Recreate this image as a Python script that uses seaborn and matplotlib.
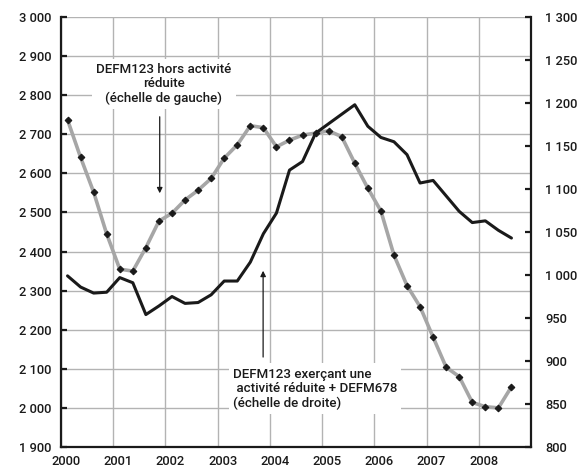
import matplotlib
matplotlib.use("Agg")
import matplotlib.pyplot as plt
import matplotlib.transforms as mtransforms
import seaborn as sns
import pandas as pd
from matplotlib.ticker import FuncFormatter

# quarterly points, placed mid-quarter
quarters = [2000.125 + 0.25 * i for i in range(35)]

# DEFM123 hors activité réduite (left scale, thousands)
defm123_hors = [2737, 2641, 2552, 2445, 2355, 2350, 2410, 2478, 2498, 2532,
                2557, 2587, 2639, 2673, 2722, 2717, 2668, 2685, 2698, 2703,
                2709, 2694, 2626, 2562, 2504, 2391, 2313, 2259, 2181, 2104,
                2080, 2014, 2003, 2000, 2054]

# DEFM123 exerçant une activité réduite + DEFM678 (right scale, thousands)
defm_ar_678 = [999, 986, 979, 980, 997, 991, 954, 964, 975, 967,
               968, 977, 993, 993, 1015, 1048, 1072, 1122, 1132, 1165,
               1176, 1187, 1198, 1173, 1160, 1155, 1140, 1107, 1110, 1092,
               1074, 1061, 1063, 1052, 1043]

years = list(range(2000, 2009))
left_ticks = list(range(1900, 3001, 100))
right_ticks = list(range(800, 1301, 50))

df = pd.DataFrame({"t": quarters, "hors": defm123_hors, "ar": defm_ar_678})

sns.set_style("white")
plt.rcParams["font.family"] = ["Roboto", "DejaVu Sans"]

fig = plt.figure(figsize=(5.81, 4.74), dpi=100)
ax = fig.add_axes([0.105, 0.057, 0.809, 0.907])
ax2 = ax.twinx()

sns.lineplot(data=df, x="t", y="hors", ax=ax, color="#a6a6a6", linewidth=2.6,
             marker="D", markersize=3.4, markerfacecolor="#1a1a1a",
             markeredgecolor="#1a1a1a", zorder=3)
sns.lineplot(data=df, x="t", y="ar", ax=ax2, color="#1a1a1a", linewidth=2.2,
             zorder=3)

thousands = FuncFormatter(lambda v, p: f"{int(v):,}".replace(",", " "))

ax.set_xlim(2000, 2009)
ax.set_ylim(1900, 3000)
ax2.set_ylim(800, 1300)
ax.set_xticks(years)
ax.set_yticks(left_ticks)
ax2.set_yticks(right_ticks)
ax.yaxis.set_major_formatter(thousands)
ax2.yaxis.set_major_formatter(thousands)
ax.set_xlabel("")
ax.set_ylabel("")
ax2.set_ylabel("")

ax.grid(True, color="#b3b3b3", linewidth=1.0)
ax.set_axisbelow(True)

for a in (ax, ax2):
    for s in a.spines.values():
        s.set_visible(False)
ax.spines["left"].set_visible(True)
ax.spines["bottom"].set_visible(True)
ax2.spines["right"].set_visible(True)
for s in ("left", "bottom"):
    ax.spines[s].set_linewidth(1.6)
    ax.spines[s].set_color("#1a1a1a")
ax2.spines["right"].set_linewidth(1.6)
ax2.spines["right"].set_color("#1a1a1a")

ax.tick_params(axis="y", direction="in", length=4, width=1.6, pad=7,
               labelsize=9.3, colors="#1a1a1a")
ax.tick_params(axis="x", direction="in", length=4, width=1.6, pad=6,
               labelsize=9.3, colors="#1a1a1a")
ax2.tick_params(axis="y", direction="in", length=4, width=1.6, pad=10,
                labelsize=9.3, colors="#1a1a1a")
for lab in ax.get_xticklabels() + ax.get_yticklabels() + ax2.get_yticklabels():
    lab.set_fontweight("medium")

# year labels sit a little to the right of their ticks in the original
shift = mtransforms.ScaledTranslation(5 / 100, 0, fig.dpi_scale_trans)
for lab in ax.get_xticklabels():
    lab.set_transform(lab.get_transform() + shift)

ax.text(2001.97, 2829, "DEFM123 hors activité\nréduite\n(échelle de gauche)",
        ha="center", va="center", fontsize=9.6, fontweight="medium",
        color="#1a1a1a", linespacing=1.15, zorder=5,
        bbox=dict(fc="white", ec="none", pad=3))
ax.annotate("", xy=(2001.89, 2542), xytext=(2001.89, 2752),
            arrowprops=dict(arrowstyle="-|>", color="#1a1a1a", lw=0.9,
                            mutation_scale=8), zorder=5)

ax.text(2003.29, 2049, "DEFM123 exerçant une\n activité réduite + DEFM678\n(échelle de droite)",
        ha="left", va="center", fontsize=9.6, fontweight="medium",
        color="#1a1a1a", linespacing=1.15, zorder=5,
        bbox=dict(fc="white", ec="none", pad=3))
ax.annotate("", xy=(2003.87, 2358), xytext=(2003.87, 2123),
            arrowprops=dict(arrowstyle="-|>", color="#1a1a1a", lw=0.9,
                            mutation_scale=8), zorder=5)

fig.savefig("out.png", dpi=100)
